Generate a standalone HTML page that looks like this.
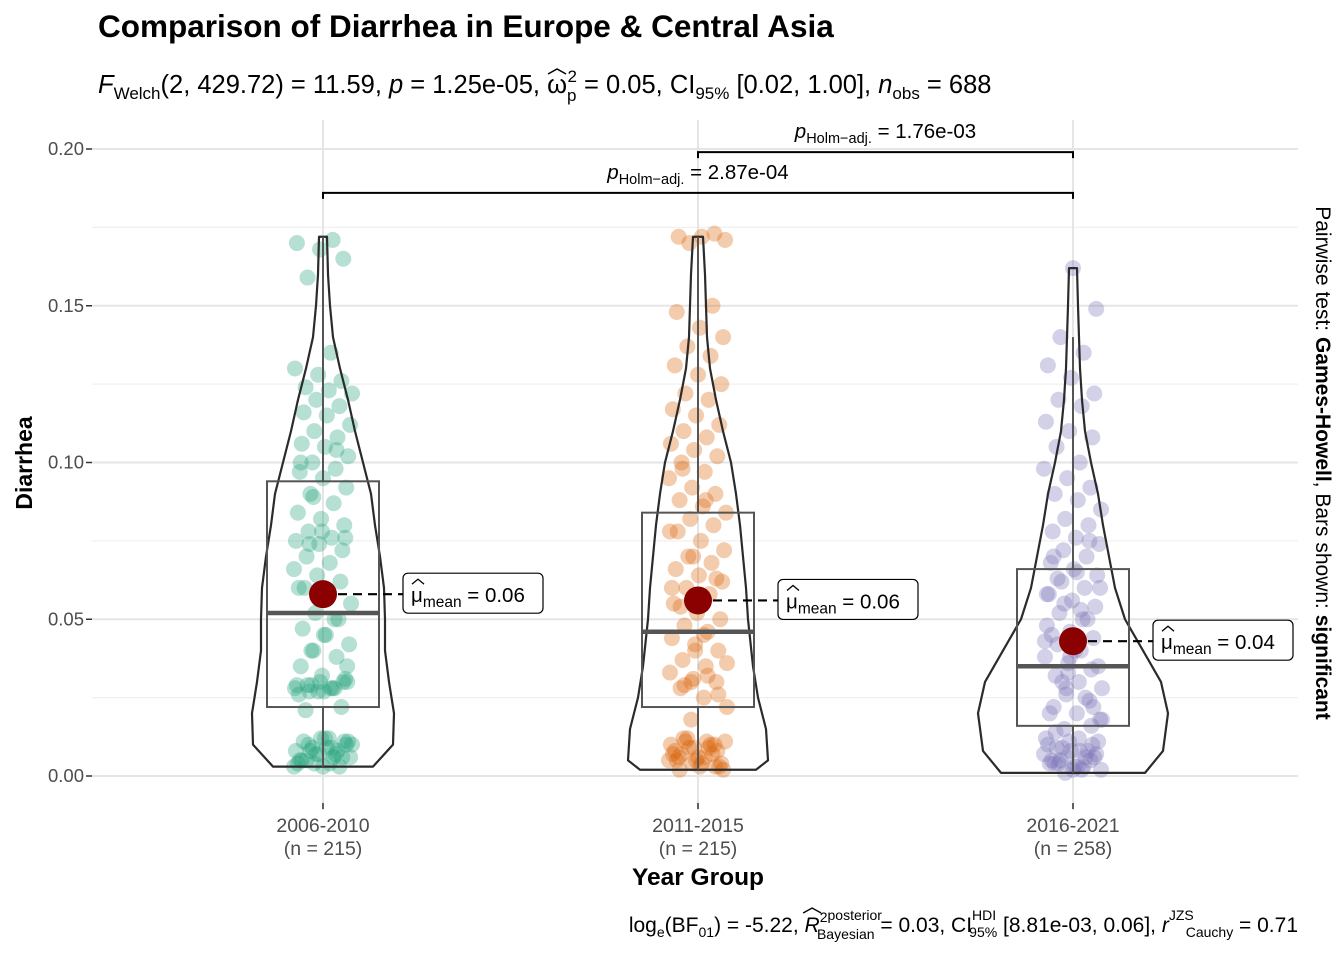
<!DOCTYPE html>
<html><head><meta charset="utf-8"><style>
body{margin:0;background:#fff;}
svg{display:block;font-family:"Liberation Sans",Arial,sans-serif;}
</style></head><body>
<svg id="chart" width="1344" height="960" viewBox="0 0 1344 960">
<text x="98" y="37" font-size="31.5" font-weight="bold" fill="#000">Comparison of Diarrhea in Europe &amp; Central Asia</text>
<text x="98" y="93" font-size="25.5" fill="#000"><tspan font-style="italic">F</tspan><tspan font-size="17" dy="6">Welch</tspan><tspan dy="-6">(2, 429.72) = 11.59, </tspan><tspan font-style="italic">p</tspan><tspan> = 1.25e-05, </tspan><tspan id="omega">ω</tspan><tspan font-size="17" dy="8">p</tspan><tspan font-size="17" dx="-9" dy="-19">2</tspan><tspan dy="11"> = 0.05, CI</tspan><tspan font-size="17" dy="6">95%</tspan><tspan dy="-6"> [0.02, 1.00], </tspan><tspan font-style="italic">n</tspan><tspan font-size="17" dy="6">obs</tspan><tspan dy="-6"> = 688</tspan></text>
<path id="omegaHat" d="" fill="none" stroke="#000" stroke-width="1.5"/>
<g id="grid"></g>
<g id="marks"></g>
<g id="axes"></g>
<text x="0" y="0" transform="translate(32,463) rotate(-90)" text-anchor="middle" font-size="23" font-weight="bold">Diarrhea</text>
<text x="698" y="885" text-anchor="middle" font-size="24.5" font-weight="bold">Year Group</text>
<text transform="translate(1316,463) rotate(90)" text-anchor="middle" font-size="21">Pairwise test: <tspan font-weight="bold">Games-Howell</tspan>, Bars shown: <tspan font-weight="bold">significant</tspan></text>
<text x="1298" y="932" text-anchor="end" font-size="21">log<tspan font-size="14" dy="5">e</tspan><tspan dy="-5">(BF</tspan><tspan font-size="14" dy="5">01</tspan><tspan dy="-5">) = -5.22, </tspan><tspan font-style="italic" id="rsym">R</tspan><tspan font-size="14" dy="-10">2</tspan><tspan font-size="14" dy="-2">posterior</tspan><tspan font-size="14" dx="-65" dy="19">Bayesian</tspan><tspan dy="-7"> = 0.03, CI</tspan><tspan font-size="14" dy="-12">HDI</tspan><tspan font-size="14" dx="-27" dy="17">95%</tspan><tspan dy="-5"> [8.81e-03, 0.06], </tspan><tspan font-style="italic">r</tspan><tspan font-size="14" dy="-12">JZS</tspan><tspan font-size="14" dx="-8" dy="17">Cauchy</tspan><tspan dy="-5"> = 0.71</tspan></text>
<path id="rHat" d="" fill="none" stroke="#000" stroke-width="1.3"/>
</svg>
<script>
const categories=["2006-2010","2011-2015","2016-2021"];
const counts=[215,215,258];
const yTicks=[0,0.05,0.10,0.15,0.20];
const yTickLabels=["0.00","0.05","0.10","0.15","0.20"];
const means=[0.058,0.056,0.043];
const meanLabels=["0.06","0.06","0.04"];
const q1=[0.022,0.022,0.016];
const medians=[0.052,0.046,0.035];
const q3=[0.094,0.084,0.066];
const whiskLo=[0.003,0.002,0.001];
const whiskHi=[0.172,0.172,0.140];
const violinY=[
[0.003,0.01,0.02,0.03,0.04,0.05,0.06,0.07,0.08,0.09,0.1,0.11,0.12,0.13,0.14,0.15,0.16,0.172],
[0.002,0.005,0.015,0.025,0.035,0.05,0.06,0.07,0.08,0.09,0.1,0.11,0.12,0.13,0.14,0.15,0.16,0.172],
[0.001,0.008,0.02,0.03,0.04,0.05,0.06,0.07,0.08,0.09,0.1,0.11,0.12,0.13,0.14,0.15,0.162]];
const violinDensity=[
[50,70,71,66,62,62,61,57,52,48,40,32,25,17,10,7,5,4],
[58,70,68,60,55,50,48,45,42,38,33,25,18,12,9,8,7,5],
[72,90,95,88,70,52,42,36,30,25,18,12,9,7,6,5,4]];
const points=[
[0.003,0.004,0.005,0.006,0.007,0.008,0.009,0.010,0.011,0.012,0.004,0.006,0.008,0.010,0.003,0.005,0.007,0.009,0.011,0.012,0.005,0.008,0.004,0.006,0.009,0.011,0.003,0.007,0.010,0.012,0.021,0.022,0.027,0.028,0.028,0.029,0.030,0.030,0.029,0.028,0.027,0.031,0.032,0.026,0.028,0.029,0.030,0.027,0.035,0.038,0.040,0.042,0.045,0.047,0.050,0.052,0.055,0.057,0.060,0.062,0.064,0.066,0.068,0.070,0.072,0.074,0.075,0.076,0.078,0.080,0.082,0.084,0.087,0.090,0.092,0.095,0.097,0.098,0.100,0.102,0.105,0.106,0.108,0.110,0.112,0.115,0.116,0.118,0.120,0.122,0.123,0.124,0.126,0.128,0.130,0.135,0.159,0.165,0.168,0.170,0.171,0.074,0.076,0.078,0.060,0.050,0.040,0.035,0.045,0.100,0.104,0.089],
[0.002,0.003,0.004,0.005,0.006,0.007,0.008,0.009,0.010,0.011,0.012,0.003,0.005,0.007,0.009,0.011,0.004,0.006,0.008,0.010,0.012,0.002,0.003,0.005,0.007,0.009,0.011,0.004,0.006,0.010,0.018,0.022,0.025,0.028,0.030,0.031,0.033,0.035,0.037,0.040,0.042,0.044,0.046,0.048,0.050,0.052,0.055,0.058,0.060,0.062,0.064,0.066,0.068,0.070,0.072,0.075,0.078,0.080,0.082,0.084,0.086,0.088,0.090,0.092,0.095,0.097,0.100,0.102,0.104,0.106,0.108,0.110,0.112,0.115,0.117,0.120,0.122,0.125,0.128,0.131,0.134,0.137,0.140,0.143,0.148,0.150,0.170,0.171,0.172,0.172,0.173,0.030,0.036,0.045,0.054,0.063,0.070,0.078,0.088,0.098,0.026,0.040,0.060,0.032,0.029],
[0.001,0.002,0.003,0.004,0.005,0.006,0.007,0.008,0.009,0.010,0.011,0.012,0.002,0.004,0.006,0.008,0.010,0.003,0.005,0.007,0.002,0.004,0.006,0.009,0.011,0.003,0.005,0.008,0.015,0.018,0.020,0.022,0.024,0.026,0.028,0.030,0.032,0.034,0.036,0.038,0.040,0.042,0.044,0.046,0.048,0.050,0.052,0.054,0.056,0.058,0.060,0.062,0.064,0.066,0.068,0.070,0.072,0.074,0.076,0.078,0.080,0.082,0.085,0.088,0.090,0.092,0.095,0.098,0.100,0.105,0.108,0.110,0.113,0.118,0.120,0.122,0.127,0.131,0.135,0.140,0.149,0.162,0.020,0.025,0.030,0.035,0.040,0.045,0.050,0.055,0.060,0.065,0.070,0.075,0.028,0.018,0.012,0.014,0.016,0.033,0.043,0.053,0.063,0.022,0.038,0.058]];
const colors=["#1B9E77","#D95F02","#7570B3"];
const pairs=[[1,2],[0,2]];
const pairLabels=["1.76e-03","2.87e-04"];
const pairBarY=[0.199,0.186];

const NS="http://www.w3.org/2000/svg";
const X0=92,X1=1298,Y0=776,Y1=149;
function y(v){return Y0-(v/0.2)*(Y0-Y1);}
function x(i){return 323+i*375;}
function mk(tag,attrs,parent){const e=document.createElementNS(NS,tag);for(const k in attrs)e.setAttribute(k,attrs[k]);parent.appendChild(e);return e;}
function hat(el,path,dy){const b=el.getBBox();const cx=b.x+b.width/2,top=b.y+dy;path.setAttribute('d','M'+(cx-9)+' '+(top+5)+' L'+cx+' '+top+' L'+(cx+9)+' '+(top+5));}
const grid=document.getElementById('grid'),marks=document.getElementById('marks'),axes=document.getElementById('axes');
for(let v=0.025;v<0.2;v+=0.05){const l=mk('line',{x1:X0,x2:X1,y1:y(v),y2:y(v),stroke:'#f0f0f0','stroke-width':1.2},grid);

}
yTicks.forEach((t,k)=>{const l=mk('line',{x1:X0,x2:X1,y1:y(t),y2:y(t),stroke:'#e5e5e5','stroke-width':2},grid);


const tk=mk('line',{x1:86,x2:92,y1:y(t),y2:y(t),stroke:'#333','stroke-width':1.5},axes);


const tx=mk('text',{x:84,y:y(t)+6,'text-anchor':'end','font-size':18.5,fill:'#4d4d4d'},axes);tx.textContent=yTickLabels[k];

});
categories.forEach((c,i)=>{
const l=mk('line',{x1:x(i),x2:x(i),y1:120,y2:810,stroke:'#e5e5e5','stroke-width':2},grid);


const tk=mk('line',{x1:x(i),x2:x(i),y1:803,y2:809,stroke:'#333','stroke-width':1.5},axes);


const t=mk('text',{x:x(i),y:832,'text-anchor':'middle','font-size':19.5,fill:'#4d4d4d'},axes);t.textContent=c;


const t2=mk('text',{x:x(i),y:855,'text-anchor':'middle','font-size':19.5,fill:'#4d4d4d'},axes);t2.textContent='(n = '+counts[i]+')';


points[i].forEach((v,j)=>{const off=(((j*37+i*11)%61)/60-0.5)*58;
const p=mk('circle',{cx:x(i)+off,cy:y(v),r:8,fill:colors[i],'fill-opacity':0.32},marks);

});
const ys=violinY[i],ds=violinDensity[i];let d='M'+(x(i)-ds[0])+' '+y(ys[0]);
for(let k=1;k<ys.length;k++)d+=' L'+(x(i)-ds[k])+' '+y(ys[k]);
for(let k=ys.length-1;k>=0;k--)d+=' L'+(x(i)+ds[k])+' '+y(ys[k]);
d+='Z';
const vp=mk('path',{d:d,fill:'none',stroke:'#2b2b2b','stroke-width':2.2,'stroke-linejoin':'round'},marks);


const w=mk('line',{x1:x(i),x2:x(i),y1:y(whiskLo[i]),y2:y(q1[i]),stroke:'#555','stroke-width':2},marks);


const w2=mk('line',{x1:x(i),x2:x(i),y1:y(q3[i]),y2:y(whiskHi[i]),stroke:'#555','stroke-width':2},marks);


const b=mk('rect',{x:x(i)-56,y:y(q3[i]),width:112,height:y(q1[i])-y(q3[i]),fill:'none',stroke:'#555','stroke-width':2},marks);


const m=mk('line',{x1:x(i)-56,x2:x(i)+56,y1:y(medians[i]),y2:y(medians[i]),stroke:'#555','stroke-width':4.5},marks);


const lx=x(i)+80;
const dl=mk('line',{x1:x(i),x2:lx,y1:y(means[i]),y2:y(means[i]),stroke:'#000','stroke-width':2.2,'stroke-dasharray':'9,6'},marks);


const mc=mk('circle',{cx:x(i),cy:y(means[i]),r:14,fill:'#8B0000'},marks);


const lb=mk('rect',{x:lx,y:y(means[i])-21,width:140,height:40,rx:5,fill:'#fff',stroke:'#000','stroke-width':1.2},marks);


const lt=mk('text',{x:lx+8,y:y(means[i])+8,'font-size':20.5},marks);
lt.innerHTML='μ<tspan font-size="15.5" dy="5">mean</tspan><tspan dy="-5"> = '+meanLabels[i]+'</tspan>';


mk('path',{d:'M'+(lx+9)+' '+(y(means[i])-10)+' l6 -5 l6 5',fill:'none',stroke:'#000','stroke-width':1.3},marks);
});
pairs.forEach((p,k)=>{const by=y(pairBarY[k]);
const pb=mk('path',{d:'M'+x(p[0])+' '+(by+6)+' V'+by+' H'+x(p[1])+' V'+(by+6),fill:'none',stroke:'#000','stroke-width':2},marks);


const t=mk('text',{x:(x(p[0])+x(p[1]))/2,y:by-14,'text-anchor':'middle','font-size':20.5},marks);
t.innerHTML='<tspan font-style="italic">p</tspan><tspan font-size="14.5" dy="5">Holm−adj.</tspan><tspan dy="-5"> = '+pairLabels[k]+'</tspan>';

});
hat(document.getElementById('omega'),document.getElementById('omegaHat'),-2);
hat(document.getElementById('rsym'),document.getElementById('rHat'),-6);
</script>
</body></html>
